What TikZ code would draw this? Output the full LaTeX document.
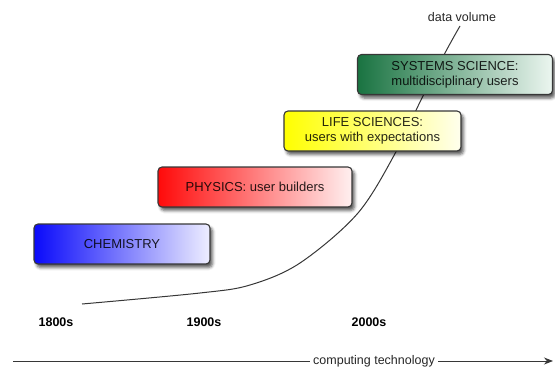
\documentclass[tikz,border=0pt]{standalone}
\usepackage{fontspec}
\setmainfont{Liberation Sans}
\usetikzlibrary{shadows.blur,arrows.meta}
\definecolor{edge}{RGB}{55,55,55}
\definecolor{chemL}{RGB}{10,10,250}
\definecolor{chemR}{RGB}{238,238,255}
\definecolor{physL}{RGB}{255,10,10}
\definecolor{physR}{RGB}{255,240,240}
\definecolor{lifeL}{RGB}{255,255,0}
\definecolor{lifeR}{RGB}{255,255,238}
\definecolor{sysL}{RGB}{25,115,65}
\definecolor{sysR}{RGB}{236,246,240}
\tikzset{
  era/.style={draw=edge, line width=1.1pt, rounded corners=4pt, inner sep=0pt,
    align=center, text opacity=0.85, font=\fontsize{13}{15}\selectfont,
    blur shadow={shadow xshift=2.5pt, shadow yshift=-3.5pt, shadow blur radius=3pt, shadow opacity=65}},
  yearlbl/.style={font=\fontsize{12.5}{15}\selectfont\bfseries},
  plainlbl/.style={font=\fontsize{12.5}{15}\selectfont, text=black!85},
  curveline/.style={draw=edge, line width=1pt},
}
\begin{document}
\begin{tikzpicture}[x=1pt,y=-1pt]
\useasboundingbox (0,0) rectangle (555,367);
% data volume curve
\draw[curveline] plot[smooth, tension=0.55] coordinates {(82,304) (200,293) (250,285) (300,263) (358,213) (397,150) (420,102) (445,53) (460,26)};
\node[plainlbl] (dv) at (462,17) {data volume};
% era boxes
\node[era, left color=chemL, right color=chemR, minimum width=176pt, minimum height=40pt] (chem) at (122,244) {CHEMISTRY};
\node[era, left color=physL, right color=physR, minimum width=194pt, minimum height=40pt] (phys) at (255,187) {PHYSICS: user builders};
\node[era, left color=lifeL, right color=lifeR, minimum width=177pt, minimum height=40pt] (life) at (372.5,131) {LIFE SCIENCES:\\users with expectations};
\node[era, left color=sysL, right color=sysR, minimum width=195pt, minimum height=40pt] (sys) at (455,74.5) {SYSTEMS SCIENCE:\\multidisciplinary users};
% years
\node[yearlbl] (y1800) at (56,322) {1800s};
\node[yearlbl] (y1900) at (204,322) {1900s};
\node[yearlbl] (y2000) at (369,322) {2000s};
% axis
\coordinate (axL) at (13,361);
\coordinate (axR) at (553,361);
\node[plainlbl, inner sep=3pt] (ct) at (374,361) {computing technology};
\draw[edge, line width=0.9pt] (axL) -- (ct.west);
\draw[edge, line width=0.9pt, -{Stealth[length=9pt,width=7pt]}] (ct.east) -- (axR);
\end{tikzpicture}
\end{document}
